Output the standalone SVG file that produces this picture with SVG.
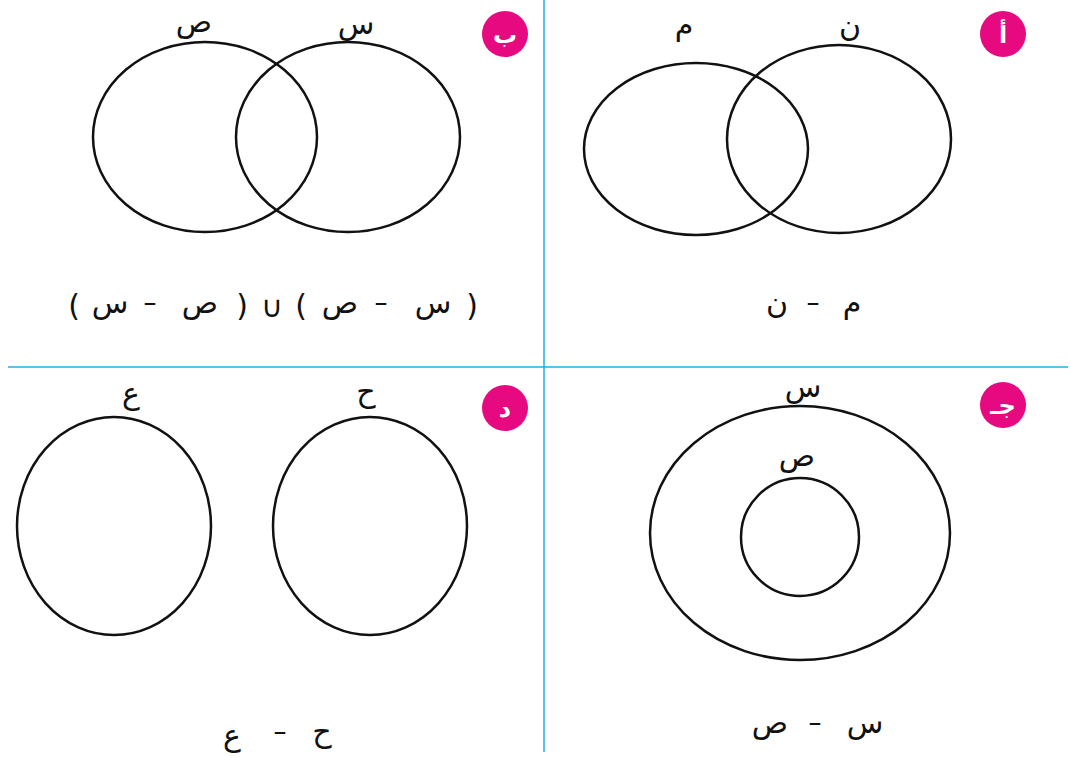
<svg xmlns="http://www.w3.org/2000/svg" width="1070" height="757" viewBox="0 0 1070 757">
<style>
.set{fill:none;stroke:#111;stroke-width:2.5}
.lbl{font-family:"DejaVu Sans",sans-serif;font-size:30px;fill:#111;text-anchor:middle}
.op{font-family:"DejaVu Sans",sans-serif;font-size:26px;fill:#111;text-anchor:middle}
.par{font-family:"DejaVu Sans",sans-serif;font-size:30px;fill:#111;text-anchor:middle}
.badge{fill:#e6097f}
.bt{font-family:"DejaVu Sans",sans-serif;font-size:24px;font-weight:bold;fill:#fff;text-anchor:middle}
.div{stroke:#1fb1e6;stroke-width:1.5}
</style>
<rect width="1070" height="757" fill="#fff"/>
<g id="dividers">
<line class="div" x1="544" y1="0" x2="544" y2="752"/>
<line class="div" x1="8" y1="367" x2="1068" y2="367"/>
</g>
<g id="panel-a">
<circle class="badge" cx="1003" cy="34" r="23"/>
<text class="bt" x="1003" y="43">أ</text>
<ellipse class="set" cx="696" cy="149" rx="112" ry="86"/>
<ellipse class="set" cx="839" cy="139" rx="112" ry="94"/>
<text class="lbl" x="684" y="35">م</text>
<text class="lbl" x="850" y="36">ن</text>
<text class="lbl" x="777" y="313">ن</text>
<text class="op" x="813" y="311">–</text>
<text class="lbl" x="852" y="313">م</text>
</g>
<g id="panel-b">
<circle class="badge" cx="505" cy="34" r="23"/>
<text class="bt" x="505" y="43">ب</text>
<ellipse class="set" cx="205" cy="137" rx="112" ry="95"/>
<ellipse class="set" cx="348" cy="137" rx="112" ry="95"/>
<text class="lbl" x="194" y="32">ص</text>
<text class="lbl" x="356" y="34">س</text>
<text class="par" x="74" y="316">(</text>
<text class="lbl" x="110" y="313">س</text>
<text class="op" x="150" y="311">–</text>
<text class="lbl" x="200" y="313">ص</text>
<text class="par" x="242" y="316">)</text>
<text class="par" x="272" y="317" font-size="36">∪</text>
<text class="par" x="301" y="316">(</text>
<text class="lbl" x="340" y="313">ص</text>
<text class="op" x="381" y="311">–</text>
<text class="lbl" x="433" y="313">س</text>
<text class="par" x="472" y="316">)</text>
</g>
<g id="panel-c">
<circle class="badge" cx="1003" cy="405" r="23"/>
<text class="bt" x="1003" y="414">جـ</text>
<ellipse class="set" cx="800" cy="533" rx="150" ry="127"/>
<circle class="set" cx="800" cy="537" r="59"/>
<text class="lbl" x="803" y="397">س</text>
<text class="lbl" x="797" y="466">ص</text>
<text class="lbl" x="770" y="733">ص</text>
<text class="op" x="815" y="731">–</text>
<text class="lbl" x="865" y="733">س</text>
</g>
<g id="panel-d">
<circle class="badge" cx="505" cy="408" r="23"/>
<text class="bt" x="505" y="417">د</text>
<ellipse class="set" cx="114" cy="526" rx="97" ry="109"/>
<ellipse class="set" cx="370" cy="526" rx="97" ry="109"/>
<text class="lbl" x="131" y="404">ع</text>
<text class="lbl" x="366" y="402">ح</text>
<text class="lbl" x="232" y="746">ع</text>
<text class="op" x="280" y="740">–</text>
<text class="lbl" x="322" y="742">ح</text>
</g>
</svg>
